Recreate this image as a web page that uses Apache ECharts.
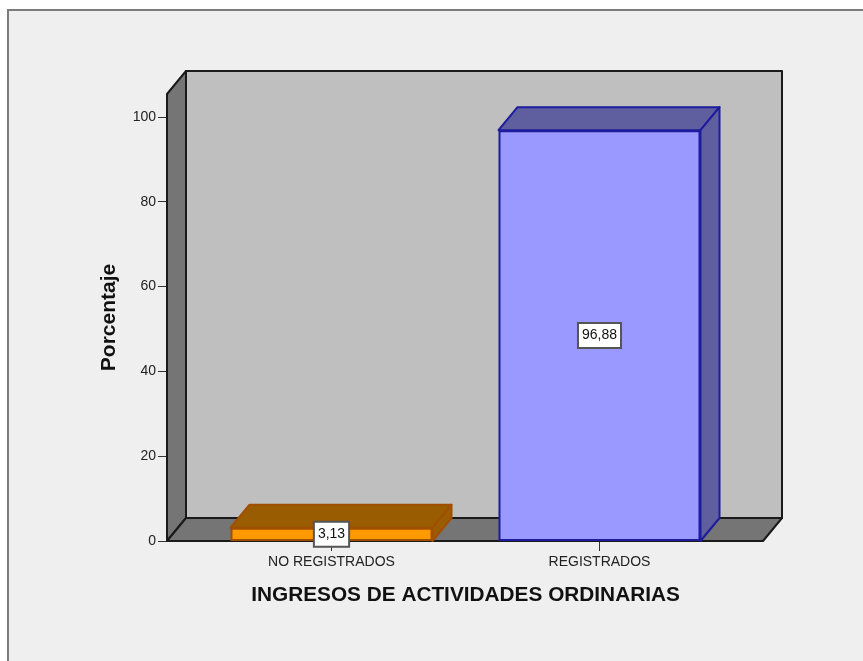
<!DOCTYPE html>
<html><head><meta charset="utf-8">
<style>html,body{margin:0;padding:0;background:#fff}#c{width:863px;height:661px}</style>
<script src="https://cdn.jsdelivr.net/npm/echarts@6/dist/echarts.min.js"></script>
</head><body><div id="c"></div>
<script>
const categories = ['NO REGISTRADOS', 'REGISTRADOS'];
const percentages = [3.13, 96.88];
const yTicks = [0, 20, 40, 60, 80, 100];
const yMax = 105.4;
const frontColors = ['#ff9900', '#9999ff'];
const shadeColors = ['#995c00', '#5f5f9f'];
const edgeColors = ['#a04f00', '#1c1c9c'];
const barWidthPx = 202, depthX = 19, depthY = -23;

const chart = echarts.init(document.getElementById('c'), null, {renderer: 'canvas'});
const F = 'Liberation Sans';
const poly = (pts, fill, stroke, w) => ({type: 'polygon', shape: {points: pts}, style: {fill, stroke, lineWidth: w, lineJoin: 'round'}});

chart.setOption({
  animation: false,
  backgroundColor: 'transparent',
  graphic: [{type: 'rect', z: -10, shape: {x: 8, y: 10, width: 900, height: 700},
    style: {fill: '#efefef', stroke: '#7c7c7c', lineWidth: 2}}],
  grid: {left: 197.5, width: 536, top: 94, bottom: 120, containLabel: false},
  xAxis: {
    type: 'category', data: categories,
    axisLine: {show: false},
    axisTick: {show: true, alignWithLabel: true, length: 10, lineStyle: {color: '#333', width: 1}},
    axisLabel: {interval: 0, margin: 14, color: '#222', fontFamily: F, fontSize: 14},
    name: 'INGRESOS DE ACTIVIDADES ORDINARIAS', nameLocation: 'middle', nameGap: 44,
    nameTextStyle: {color: '#111', fontFamily: F, fontWeight: 'bold', fontSize: 20.8}
  },
  yAxis: {
    type: 'value', min: 0, max: yMax, offset: 30.5,
    splitLine: {show: false},
    axisLine: {show: false},
    axisTick: {show: true, length: 9, customValues: yTicks, lineStyle: {color: '#333', width: 1}},
    axisLabel: {margin: 11, color: '#222', fontFamily: F, fontSize: 14, customValues: yTicks, padding: [2, 0, 0, 0]},
    name: 'Porcentaje', nameLocation: 'middle', nameGap: 47,
    nameTextStyle: {color: '#111', fontFamily: F, fontWeight: 'bold', fontSize: 21}
  },
  series: [
    {
      type: 'custom', data: [[0, yMax]], clip: false, z: 1, silent: true,
      renderItem(params, api) {
        const cs = params.coordSys;
        const top = api.coord([0, yMax])[1], base = api.coord([0, 0])[1];
        const L = cs.x - 30.5, R = cs.x + cs.width + 29.5;
        const s = '#1a1a1a';
        return {type: 'group', children: [
          poly([[L + depthX, top + depthY], [R + depthX, top + depthY], [R + depthX, base + depthY], [L + depthX, base + depthY]], '#bfbfbf', s, 2),
          poly([[L, top], [L + depthX, top + depthY], [L + depthX, base + depthY], [L, base]], '#757575', s, 2),
          poly([[L, base], [L + depthX, base + depthY], [R + depthX, base + depthY], [R, base]], '#757575', s, 2)
        ]};
      }
    },
    {
      type: 'custom', data: percentages.map((v, i) => [i, v]), clip: false, z: 2, silent: true,
      renderItem(params, api) {
        const i = api.value(0), p = api.coord([i, api.value(1)]), b = api.coord([i, 0]);
        const l = p[0] - barWidthPx / 2, r = p[0] + barWidthPx / 2;
        const f = shadeColors[i], e = edgeColors[i];
        return {type: 'group', children: [
          poly([[l, p[1]], [l + depthX, p[1] + depthY], [r + depthX, p[1] + depthY], [r, p[1]]], f, e, 2),
          poly([[r, p[1]], [r + depthX, p[1] + depthY], [r + depthX, b[1] + depthY], [r, b[1]]], f, e, 2)
        ]};
      }
    },
    {
      type: 'bar', barWidth: barWidthPx, z: 3,
      data: percentages.map((v, i) => ({value: v, itemStyle: {color: frontColors[i], borderColor: edgeColors[i], borderWidth: 2}})),
      label: {
        show: true, position: 'inside', color: '#111', fontFamily: F, fontSize: 14,
        formatter: p => p.value.toFixed(2).replace('.', ','),
        backgroundColor: '#fff', borderColor: '#555', borderWidth: 2, padding: [5, 3, 4, 3]
      }
    }
  ]
});
</script></body></html>
